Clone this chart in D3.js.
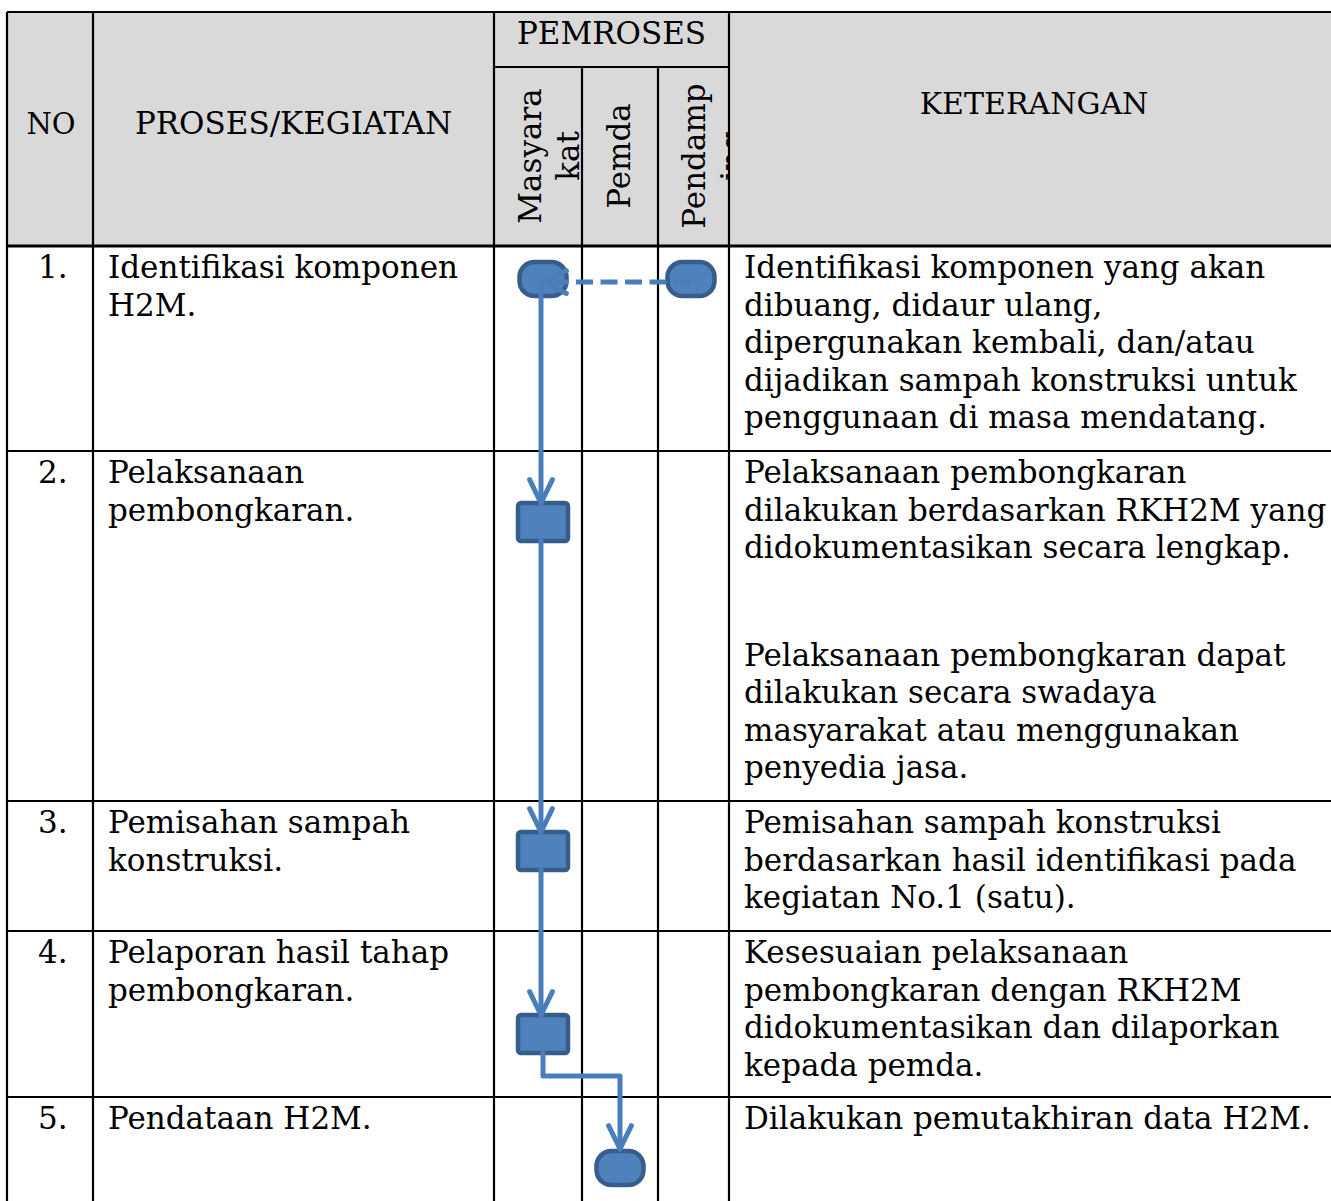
<!DOCTYPE html>
<html><head><meta charset="utf-8">
<script src="https://cdn.jsdelivr.net/npm/d3@7"></script>
<style>body{margin:0;background:#fff}svg{display:block}</style>
</head><body>
<script>
// ---------- DATA ----------
const headers = ["NO", "PROSES/KEGIATAN", "PEMROSES", "KETERANGAN"];
const lanes = [["Masyara", "kat"], ["Pemda"], ["Pendamp", "ing"]];
const numbers = ["1.", "2.", "3.", "4.", "5."];
const activities = [
  ["Identifikasi komponen", "H2M."],
  ["Pelaksanaan", "pembongkaran."],
  ["Pemisahan sampah", "konstruksi."],
  ["Pelaporan hasil tahap", "pembongkaran."],
  ["Pendataan H2M."]
];
const notes = [
  [["Identifikasi komponen yang akan", "dibuang, didaur ulang,", "dipergunakan kembali, dan/atau", "dijadikan sampah konstruksi untuk", "penggunaan di masa mendatang."]],
  [["Pelaksanaan pembongkaran", "dilakukan berdasarkan RKH2M yang", "didokumentasikan secara lengkap."],
   ["Pelaksanaan pembongkaran dapat", "dilakukan secara swadaya", "masyarakat atau menggunakan", "penyedia jasa."]],
  [["Pemisahan sampah konstruksi", "berdasarkan hasil identifikasi pada", "kegiatan No.1 (satu)."]],
  [["Kesesuaian pelaksanaan", "pembongkaran dengan RKH2M", "didokumentasikan dan dilaporkan", "kepada pemda."]],
  [["Dilakukan pemutakhiran data H2M."]]
];
const nodes = [
  {step: 0, lane: 0, shape: "terminator"},
  {step: 0, lane: 2, shape: "terminator"},
  {step: 1, lane: 0, shape: "process"},
  {step: 2, lane: 0, shape: "process"},
  {step: 3, lane: 0, shape: "process"},
  {step: 4, lane: 1, shape: "terminator"}
];
const links = [
  {source: 1, target: 0, dashed: true},
  {source: 0, target: 2},
  {source: 2, target: 3},
  {source: 3, target: 4},
  {source: 4, target: 5, elbow: true}
];

// ---------- LAYOUT ----------
const W = 1331, H = 1201;
const colEdges = [7, 93, 494, 582, 658, 729, 1345];
const headTop = 12, subHead = 67, headBottom = 246;
const rowEdges = [246, 451, 801, 931, 1097, 1215];
const laneCenters = [543, 620, 691];
const nodeOffsets = [33, 33, 71, 50, 103, 71];
const FONT = "'DejaVu Serif', serif";
const FS = 31, LH = 37.5, PARA = 70;
const fill = "#4F81BD", edge = "#385D8A", lineC = "#4A7EBB";

const svg = d3.select("body").append("svg").attr("width", W).attr("height", H);

const rowY = d3.scaleOrdinal().domain(d3.range(numbers.length)).range(rowEdges.slice(0, -1));
const laneX = d3.scaleOrdinal().domain(d3.range(lanes.length)).range(laneCenters);

// header background
svg.append("rect").attr("x", colEdges[0]).attr("y", headTop)
  .attr("width", W - colEdges[0]).attr("height", headBottom - headTop).attr("fill", "#D9D9D9");

// header texts
const ht = svg.append("g").attr("font-family", FONT).attr("font-size", FS).attr("fill", "#000").attr("text-anchor", "middle");
ht.append("text").attr("x", (colEdges[0] + colEdges[1]) / 2 + 1).attr("y", 134).attr("font-size", 29).text(headers[0]);
ht.append("text").attr("x", (colEdges[1] + colEdges[2]) / 2).attr("y", 134).text(headers[1]);
ht.append("text").attr("x", (colEdges[2] + colEdges[5]) / 2).attr("y", 44).text(headers[2]);
ht.append("text").attr("x", (colEdges[5] + W) / 2 + 4).attr("y", 114).attr("font-size", 30).text(headers[3]);

// rotated lane labels with clipping
const defs = svg.append("defs");
lanes.forEach((lab, i) => {
  const x0 = colEdges[2 + i], x1 = colEdges[3 + i];
  defs.append("clipPath").attr("id", "lc" + i).append("rect")
    .attr("x", x0).attr("y", subHead).attr("width", x1 - x0).attr("height", headBottom - subHead);
  const g = svg.append("g").attr("clip-path", `url(#lc${i})`);
  const base = [541, 630, 705][i];
  lab.forEach((s, j) => {
    const bx = base + j * LH;
    g.append("text").attr("font-family", FONT).attr("font-size", FS).attr("text-anchor", "middle")
      .attr("transform", `translate(${bx},156) rotate(-90)`).text(s);
  });
});

// body text
const bt = svg.append("g").attr("font-family", FONT).attr("font-size", FS).attr("fill", "#000");
numbers.forEach((n, i) => {
  const y0 = rowY(i) + 32;
  bt.append("text").attr("x", 38).attr("y", y0).text(n);
  activities[i].forEach((s, j) => bt.append("text").attr("x", 108).attr("y", y0 + j * LH).text(s));
  let y = y0;
  notes[i].forEach((para, p) => {
    if (p > 0) y += LH + PARA;
    para.forEach((s, j) => {
      bt.append("text").attr("x", 744).attr("y", y).text(s);
      if (j < para.length - 1) y += LH;
    });
  });
});

// grid lines
const grid = svg.append("g").attr("stroke", "#000").attr("stroke-width", 2.2).attr("fill", "none");
grid.append("line").attr("x1", colEdges[0]).attr("x2", W).attr("y1", headTop).attr("y2", headTop);
grid.append("line").attr("x1", colEdges[2]).attr("x2", colEdges[5]).attr("y1", subHead).attr("y2", subHead);
rowEdges.slice(0, -1).forEach((y, i) => {
  grid.append("line").attr("x1", colEdges[0]).attr("x2", W).attr("y1", y).attr("y2", y)
    .attr("stroke-width", i === 0 ? 3 : 2.2);
});
[0, 1, 2, 5].forEach(k => grid.append("line").attr("x1", colEdges[k]).attr("x2", colEdges[k]).attr("y1", headTop).attr("y2", H));
[3, 4].forEach(k => grid.append("line").attr("x1", colEdges[k]).attr("x2", colEdges[k]).attr("y1", subHead).attr("y2", H));

// nodes
const pos = nodes.map((d, i) => ({x: laneX(d.lane), y: rowY(d.step) + nodeOffsets[i], d}));
const shapeSize = {terminator: [47, 34, 15], process: [50, 38, 3]};
const ng = svg.append("g");
pos.forEach(p => {
  const [w, h, r] = shapeSize[p.d.shape];
  ng.append("rect").attr("x", p.x - w / 2).attr("y", p.y - h / 2).attr("width", w).attr("height", h)
    .attr("rx", r).attr("ry", r).attr("fill", fill).attr("stroke", edge).attr("stroke-width", 4.5);
});

// links
const lg = svg.append("g").attr("fill", "none").attr("stroke", lineC).attr("stroke-width", 5)
  .attr("stroke-linecap", "round").attr("stroke-linejoin", "round");
function arrowHead(tx, ty, dx, dy) {
  const L = 26, a = 26 * Math.PI / 180;
  const ang = Math.atan2(dy, dx);
  const p1 = [tx - L * Math.cos(ang - a), ty - L * Math.sin(ang - a)];
  const p2 = [tx - L * Math.cos(ang + a), ty - L * Math.sin(ang + a)];
  lg.append("path").attr("d", d3.line()([p1, [tx, ty], p2]));
}
links.forEach(l => {
  const s = pos[l.source], t = pos[l.target];
  const sh = shapeSize[s.d.shape], th = shapeSize[t.d.shape];
  if (l.dashed) {
    const y = s.y + 3;
    const tipX = t.x;
    lg.append("path").attr("d", d3.line()([[s.x, y], [tipX + 14, y]])).attr("stroke-dasharray", "17 7.5")
      .attr("stroke-linecap", "butt");
    lg.append("path").attr("d", d3.line()([[tipX + 20, y], [tipX, y]])).attr("stroke-linecap", "butt");
    arrowHead(tipX, y, -1, 0);
  } else if (l.elbow) {
    const y0 = s.y + sh[1] / 2, ty = t.y - th[1] / 2 - 2;
    const my = y0 + 23;
    lg.append("path").attr("d", d3.line()([[s.x, y0], [s.x, my], [t.x, my], [t.x, ty]]));
    arrowHead(t.x, ty, 0, 1);
  } else {
    const y0 = s.d.shape === "terminator" ? s.y + 3 : s.y + sh[1] / 2;
    const ty = t.y - th[1] / 2;
    lg.append("path").attr("d", d3.line()([[s.x - 2, y0], [t.x - 2, ty]]));
    arrowHead(t.x - 2, ty, t.x - s.x, ty - y0);
  }
});
</script>
</body></html>
